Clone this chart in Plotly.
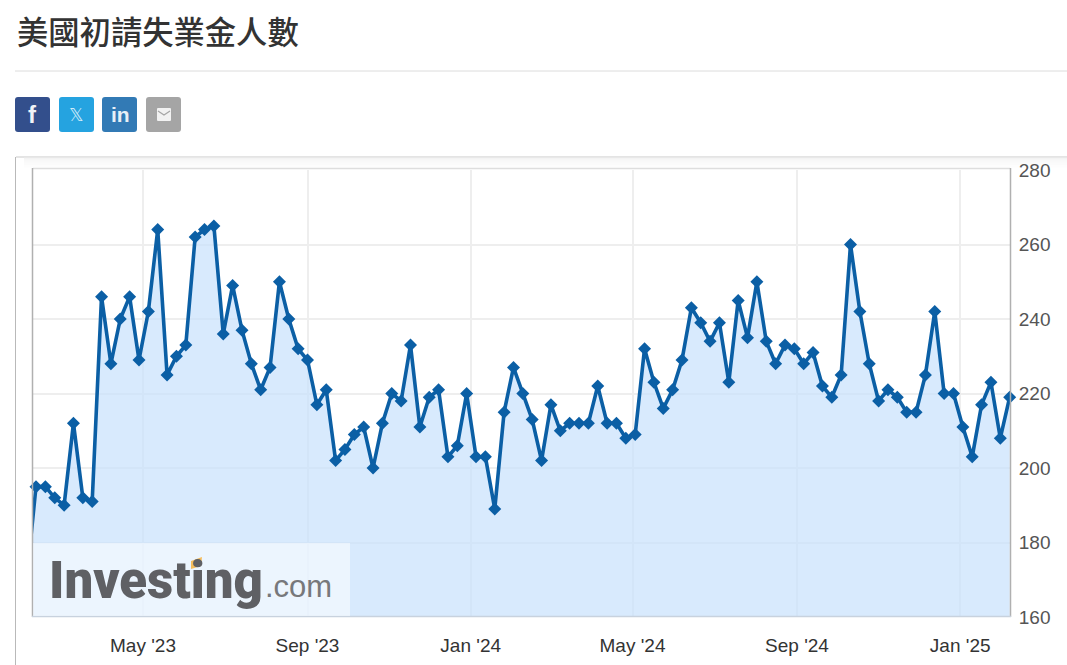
import plotly.graph_objects as go
import pandas as pd

W, H = 1067, 665
TITLE = "美國初請失業金人數"
START = "2023-02-03"
LEAD_IN = [170]
VALUES = [195,195,192,190,212,192,191,246,228,240,246,229,242,264,225,230,233,262,264,265,
          236,249,237,228,221,227,250,240,232,229,217,221,202,205,209,211,200,212,220,218,
          233,211,219,221,203,206,220,203,203,189,215,227,220,213,202,217,210,212,212,212,
          222,212,212,208,209,232,223,216,221,229,243,239,234,239,223,245,235,250,234,228,
          233,232,228,231,222,219,225,260,242,228,218,221,219,215,215,225,242,220,220,211,
          203,217,223,208,219]
TICK_DATES = ["2023-05-01","2023-09-01","2024-01-01","2024-05-01","2024-09-01","2025-01-01"]
TICK_LABELS = ["May '23","Sep '23","Jan '24","May '24","Sep '24","Jan '25"]
Y_TICKS = [160,180,200,220,240,260,280]

all_vals = LEAD_IN + VALUES
dates = pd.date_range(START, periods=len(all_vals), freq="7D")

def px(x): return x / W
def py(y): return 1 - y / H
def rect(x0, y0, x1, y1, color, line=None, layer="above", **kw):
    return dict(type="rect", xref="paper", yref="paper", x0=px(x0), x1=px(x1), y0=py(y0), y1=py(y1),
                fillcolor=color, line=dict(width=0) if line is None else line, layer=layer, **kw)
def hline(x0, x1, y, color, width=1, layer="above"):
    return dict(type="line", xref="paper", yref="paper", x0=px(x0), x1=px(x1), y0=py(y), y1=py(y),
                line=dict(color=color, width=width), layer=layer)
def vline(x, y0, y1, color, width=1, layer="above"):
    return dict(type="line", xref="paper", yref="paper", x0=px(x), x1=px(x), y0=py(y0), y1=py(y1),
                line=dict(color=color, width=width), layer=layer)
def rrect(x0, y0, x1, y1, color, r=3):
    X0, X1, Y0, Y1 = px(x0), px(x1), py(y0), py(y1)
    rx, ry = r / W, r / H
    path = (f"M{X0+rx},{Y0} L{X1-rx},{Y0} Q{X1},{Y0} {X1},{Y0-ry} L{X1},{Y1+ry} Q{X1},{Y1} {X1-rx},{Y1} "
            f"L{X0+rx},{Y1} Q{X0},{Y1} {X0},{Y1+ry} L{X0},{Y0-ry} Q{X0},{Y0} {X0+rx},{Y0} Z")
    return dict(type="path", xref="paper", yref="paper", path=path, fillcolor=color, line=dict(width=0), layer="above")
def label(x, y, text, size, color, family="Liberation Sans", anchor="center", weight=None):
    f = dict(size=size, color=color, family=family)
    if weight: f["weight"] = weight
    return dict(xref="paper", yref="paper", x=px(x), y=py(y), text=text,
                showarrow=False, xanchor=anchor, yanchor="middle", align="left", font=f)

fig = go.Figure()
fig.add_trace(go.Scatter(x=dates, y=all_vals, mode="lines", fill="tozeroy",
                         fillcolor="rgba(199,225,252,0.7)",
                         line=dict(color="#0b5fa5", width=3.6), hoverinfo="skip"))
fig.add_trace(go.Scatter(x=dates[1:], y=VALUES, mode="markers", cliponaxis=False,
                         marker=dict(symbol="diamond", size=10, color="#0b5fa5")))

shapes = [hline(15, W, 71, "#dcdcdc")]
shapes += [rrect(15, 97, 50, 132, "#334f8c"), rrect(59, 97, 94, 132, "#25a3e0"),
           rrect(102, 97, 137, 132, "#327ab5"), rrect(146, 97, 181, 132, "#a5a5a5"),
           rrect(157, 108, 171, 121, "#f2f2f2", r=1)]
shapes.append(dict(type="path", xref="paper", yref="paper",
                   path=f"M{px(158)},{py(111)} L{px(164)},{py(115)} L{px(170)},{py(111)}",
                   line=dict(color="#a5a5a5", width=1.2), layer="above"))
for i, c in enumerate(["#c9c9c9", "#ececec", "#f1f1f1", "#f4f4f4", "#f6f6f6", "#f8f8f8", "#f9f9f9", "#fafafa", "#fbfbfb", "#fcfcfc", "#fdfdfd"]):
    shapes.append(hline(16 if i == 0 else 24, W, 157 + i, c, layer="below"))
shapes += [vline(15.5, 157, H, "#b9b9b9"), hline(33, 1010, 168.5, "#dedede", 1.5),
           vline(32.5, 168, 617, "#b0b0b0", 1.5), vline(1010.5, 168, 617, "#b0b0b0", 1.5),
           hline(32, 1011, 616.5, "#c8d2de", 1.5)]
shapes.append(rect(33, 543, 350, 616, "rgba(255,255,255,0.5)"))
shapes.append(dict(type="path", xref="paper", yref="paper", layer="above", fillcolor="#f5bd5c", line=dict(width=0),
                   path=f"M{px(191)},{py(561)} L{px(202)},{py(557)} L{px(201)},{py(566)} L{px(191)},{py(569)} Z"))

annotations = [
    label(15, 31, TITLE, 31.3, "#333333", family="Noto Sans CJK TC", anchor="left", weight=500),
    label(32.5, 115, "f", 24, "#f0f3f8", weight=700),
    label(76.5, 115, "𝕏", 18, "#cfeaf8", family="DejaVu Sans"),
    label(120, 115, "in", 21, "#e8f0f7", weight=700),
    label(47, 580, "Investing", 51, "#5f6064", family="Roboto", anchor="left", weight=900),
    label(263, 586, ".com", 31, "#77787b", anchor="left"),
]

fig.update_layout(
    width=W, height=H, autosize=False, showlegend=False, hovermode=False,
    margin=dict(l=0, r=0, t=0, b=0, pad=0, autoexpand=False), paper_bgcolor="white", plot_bgcolor="white",
    shapes=shapes, annotations=annotations,
    xaxis=dict(domain=[px(33), px(1010)], type="date", automargin=False,
               range=["2023-02-07 18:00", "2025-02-07 06:00"],
               tickmode="array", tickvals=TICK_DATES, ticktext=TICK_LABELS,
               showgrid=True, gridcolor="#eeeeee", gridwidth=2, zeroline=False, showline=False,
               ticks="outside", ticklen=11, tickcolor="rgba(0,0,0,0)",
               tickfont=dict(size=19, color="#333333", family="Liberation Sans")),
    yaxis=dict(domain=[py(617), py(170)], range=[160, 280], side="right", automargin=False,
               tickmode="array", tickvals=Y_TICKS,
               showgrid=True, gridcolor="#eeeeee", gridwidth=2, zeroline=False, showline=False,
               ticks="outside", ticklen=4, tickcolor="rgba(0,0,0,0)",
               tickfont=dict(size=19, color="#555555", family="Liberation Sans")),
)
fig.write_html("out.html", config=dict(displayModeBar=False),
               post_script="document.body.style.margin='0';document.body.style.overflow='hidden';")
